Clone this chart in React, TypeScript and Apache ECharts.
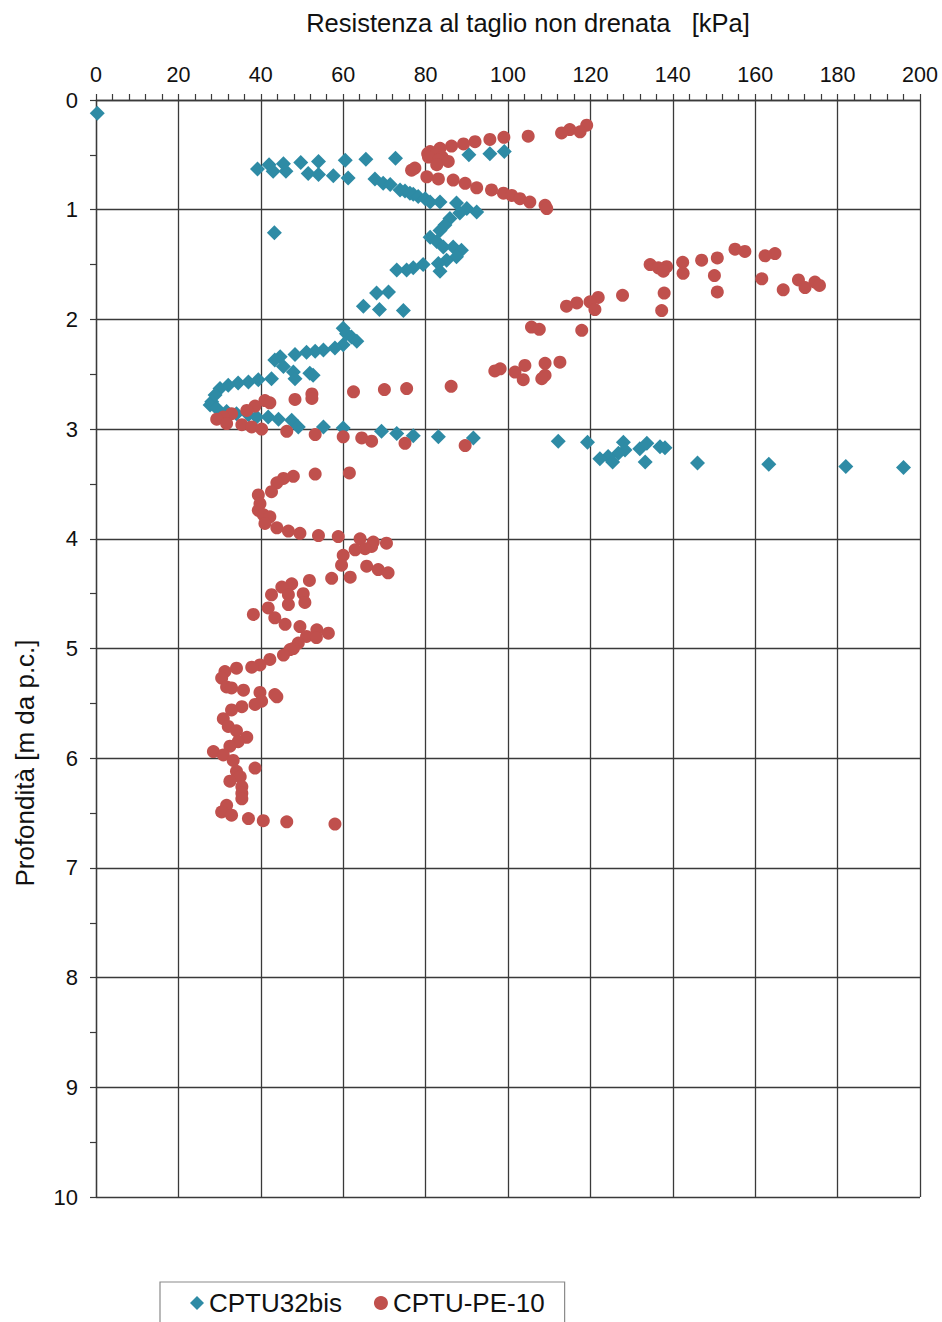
import React, { useEffect, useRef } from "react";
import * as echarts from "echarts";

const xTitle = "Resistenza al taglio non drenata   [kPa]";
const yTitle = "Profondità [m da p.c.]";
const seriesNames = ["CPTU32bis", "CPTU-PE-10"];

// CPTU32bis: undrained shear strength [kPa] and depth [m]
const cptu32Su = [
  0.3, 99.1, 95.6, 90.5, 72.7, 65.5, 60.5, 54.0, 49.7, 45.5, 42.0, 39.2, 43.0, 46.1, 51.5, 54.0, 57.6, 61.2,
  67.7, 69.7, 71.4, 73.8, 75.0, 76.2, 77.0, 78.2, 79.9, 81.1, 83.5, 87.5, 90.0, 92.4, 88.3, 85.9, 84.7, 83.5,
  43.3, 81.1, 82.7, 84.3, 86.7, 88.7, 87.5, 85.1, 83.1, 79.4, 77.0, 75.4, 73.0, 83.5, 71.0, 68.1, 64.9, 68.8,
  74.6, 60.0, 60.8, 62.0, 63.3, 60.0, 58.0, 55.2, 53.2, 51.1, 48.3, 44.7, 43.4, 45.5, 47.9, 51.9, 52.7, 48.3,
  42.6, 39.4, 37.0, 34.5, 32.1, 30.1, 28.9, 28.1, 27.7, 29.3, 31.7, 34.1, 37.0, 39.0, 41.8, 44.3, 47.5, 49.1,
  55.2, 60.0, 69.3, 73.0, 77.0, 83.1, 91.6, 112.2, 119.3, 128.0, 128.4, 126.8, 124.3, 122.3, 125.4, 132.0,
  133.7, 133.3, 136.9, 138.1, 146.0, 163.3, 182.0, 196.0,
];
const cptu32Depth = [
  0.12, 0.47, 0.49, 0.5, 0.53, 0.54, 0.55, 0.56, 0.57, 0.58, 0.59, 0.63, 0.65, 0.65, 0.67, 0.68, 0.69, 0.71,
  0.72, 0.76, 0.77, 0.82, 0.83, 0.85, 0.86, 0.88, 0.9, 0.93, 0.93, 0.94, 0.99, 1.02, 1.03, 1.08, 1.14, 1.19,
  1.21, 1.25, 1.29, 1.34, 1.34, 1.37, 1.43, 1.46, 1.49, 1.5, 1.53, 1.55, 1.55, 1.56, 1.75, 1.76, 1.88, 1.91,
  1.92, 2.08, 2.13, 2.16, 2.2, 2.23, 2.26, 2.28, 2.29, 2.3, 2.32, 2.34, 2.37, 2.43, 2.48, 2.49, 2.51, 2.54,
  2.54, 2.55, 2.57, 2.58, 2.6, 2.63, 2.69, 2.75, 2.78, 2.81, 2.84, 2.86, 2.87, 2.89, 2.89, 2.91, 2.92, 2.98,
  2.98, 2.99, 3.02, 3.04, 3.06, 3.07, 3.08, 3.11, 3.12, 3.12, 3.19, 3.22, 3.25, 3.27, 3.3, 3.18,
  3.13, 3.3, 3.16, 3.17, 3.31, 3.32, 3.34, 3.35,
];

// CPTU-PE-10: undrained shear strength [kPa] and depth [m]
const pe10Su = [
  119.1, 115.0, 117.5, 113.0, 104.9, 99.0, 95.6, 92.0, 89.2, 86.3, 83.5, 81.1, 80.5, 82.5, 84.0, 80.7, 83.1,
  85.5, 82.7, 77.4, 76.6, 80.3, 83.1, 86.7, 89.6, 92.4, 96.0, 98.9, 100.9, 102.9, 105.3, 109.0, 109.4,
  155.1, 157.5, 164.8, 162.4, 150.8, 147.0, 142.4, 134.5, 138.5, 136.5, 137.7, 142.5, 150.1, 161.6, 170.5,
  174.5, 175.6, 172.1, 166.8, 150.8, 137.9, 127.8, 121.9, 119.9, 116.7, 114.2, 121.1, 137.3, 105.7, 107.6,
  117.9, 112.6, 109.0, 104.1, 98.1, 96.8, 101.7, 109.0, 108.2, 103.7, 86.2, 75.4, 70.0, 62.5, 52.4, 52.4,
  48.3, 41.0, 42.2, 38.6, 36.6, 32.9, 30.9, 29.3, 31.7, 35.4, 37.8, 40.2, 46.3, 53.2, 60.0, 64.5, 66.9, 75.0,
  89.6, 61.5, 53.2, 47.9, 45.5, 43.9, 42.6, 39.4, 39.8, 39.4, 40.6, 42.2, 41.0, 43.9, 46.7, 49.5, 54.0, 58.8,
  64.1, 67.3, 70.5, 66.9, 65.3, 62.9, 60.0, 59.6, 65.7, 68.5, 70.9, 61.7, 57.2, 51.8, 47.5, 45.1, 50.3, 46.7,
  42.6, 50.7, 46.7, 41.8, 38.2, 43.4, 45.9, 49.5, 53.6, 56.4, 51.1, 53.5, 49.1, 47.9, 47.1, 45.5, 42.2, 39.8,
  37.8, 34.1, 31.3, 30.5, 31.7, 32.9, 35.8, 39.8, 43.9, 43.4, 40.2, 38.6, 35.4, 32.9, 30.9, 32.1, 34.1, 36.6,
  34.5, 32.5, 28.5, 30.9, 33.3, 38.6, 34.1, 35.0, 32.5, 35.4, 35.4, 35.4, 31.7, 30.5, 32.9, 37.0, 40.6, 46.3,
  58.0,
];
const pe10Depth = [
  0.23, 0.27, 0.29, 0.3, 0.33, 0.34, 0.36, 0.38, 0.4, 0.42, 0.44, 0.47, 0.49, 0.5, 0.52, 0.52, 0.55,
  0.56, 0.59, 0.62, 0.64, 0.7, 0.72, 0.73, 0.76, 0.8, 0.82, 0.85, 0.87, 0.9, 0.93, 0.96, 0.99,
  1.36, 1.38, 1.4, 1.42, 1.44, 1.46, 1.48, 1.5, 1.52, 1.53, 1.56, 1.58, 1.6, 1.63, 1.64,
  1.66, 1.69, 1.71, 1.73, 1.75, 1.76, 1.78, 1.8, 1.84, 1.85, 1.88, 1.91, 1.92, 2.07, 2.09,
  2.1, 2.39, 2.4, 2.42, 2.45, 2.47, 2.48, 2.51, 2.54, 2.55, 2.61, 2.63, 2.64, 2.66, 2.68, 2.72,
  2.73, 2.74, 2.76, 2.79, 2.83, 2.86, 2.89, 2.91, 2.95, 2.96, 2.98, 3.0, 3.02, 3.05, 3.07, 3.08, 3.11, 3.13,
  3.15, 3.4, 3.41, 3.43, 3.45, 3.49, 3.57, 3.6, 3.68, 3.74, 3.78, 3.8, 3.86, 3.9, 3.93, 3.95, 3.97, 3.98,
  4.0, 4.03, 4.04, 4.07, 4.09, 4.1, 4.15, 4.24, 4.25, 4.28, 4.31, 4.35, 4.36, 4.38, 4.41, 4.44, 4.5, 4.51,
  4.51, 4.58, 4.6, 4.63, 4.69, 4.72, 4.78, 4.8, 4.83, 4.86, 4.89, 4.9, 4.95, 5.0, 5.01, 5.06, 5.1, 5.15,
  5.17, 5.18, 5.21, 5.27, 5.35, 5.36, 5.38, 5.4, 5.44, 5.42, 5.48, 5.51, 5.53, 5.56, 5.64, 5.71, 5.75, 5.81,
  5.85, 5.89, 5.94, 5.97, 6.02, 6.09, 6.12, 6.17, 6.21, 6.26, 6.32, 6.37, 6.43, 6.49, 6.52, 6.55, 6.57, 6.58,
  6.6,
];

const xMin = 0, xMax = 200, xStep = 20;
const yMin = 0, yMax = 10, yStep = 1;

const FONT = "'Liberation Sans', Arial, sans-serif";
const LINE = "#3a3a3a";
const BLUE = "#2E8BA5";
const RED = "#C0504D";

export default function App() {
  const ref = useRef<HTMLDivElement>(null);
  useEffect(() => {
    if (!ref.current) return;
    const chart = echarts.init(ref.current, undefined, { renderer: "svg" });
    const blue = cptu32Su.map((v, i) => [v, cptu32Depth[i]]);
    const red = pe10Su.map((v, i) => [v, pe10Depth[i]]);
    chart.setOption({
      animation: false,
      backgroundColor: "#ffffff",
      grid: { left: 96, top: 100, width: 824, height: 1097, containLabel: false },
      graphic: [
        {
          type: "text",
          x: 528,
          y: 23,
          style: { text: xTitle, fontSize: 25.5, fontFamily: FONT, fill: "#111", textAlign: "center", textVerticalAlign: "middle" },
        },
        {
          type: "text",
          x: 25,
          y: 763,
          rotation: Math.PI / 2,
          style: { text: yTitle, fontSize: 26, fontFamily: FONT, fill: "#111", textAlign: "center", textVerticalAlign: "middle" },
        },
      ],
      xAxis: {
        type: "value",
        position: "top",
        min: xMin,
        max: xMax,
        interval: xStep,
        axisLine: { show: true, onZero: false, lineStyle: { color: LINE, width: 1.3 } },
        axisTick: { show: true, inside: false, length: 6, lineStyle: { color: LINE, width: 1.2 } },
        minorTick: { show: true, splitNumber: 5, length: 6, lineStyle: { color: LINE, width: 1.2 } },
        splitLine: { show: true, lineStyle: { color: LINE, width: 1.3 } },
        minorSplitLine: { show: false },
        axisLabel: { fontSize: 21.5, fontFamily: FONT, color: "#111", margin: 14 },
      },
      yAxis: {
        type: "value",
        inverse: true,
        min: yMin,
        max: yMax,
        interval: yStep,
        axisLine: { show: true, onZero: false, lineStyle: { color: LINE, width: 1.3 } },
        axisTick: { show: true, inside: false, length: 6, lineStyle: { color: LINE, width: 1.2 } },
        minorTick: { show: true, splitNumber: 2, length: 6, lineStyle: { color: LINE, width: 1.2 } },
        splitLine: { show: true, lineStyle: { color: LINE, width: 1.3 } },
        axisLabel: { fontSize: 22, fontFamily: FONT, color: "#111", margin: 18 },
      },
      legend: {
        left: 160,
        top: 1282,
        orient: "horizontal",
        padding: [8, 20, 30, 30],
        itemGap: 32,
        itemWidth: 14,
        itemHeight: 14,
        borderColor: "#8a8a8a",
        borderWidth: 1.2,
        textStyle: { fontSize: 26, fontFamily: FONT, color: "#111" },
        data: [
          { name: seriesNames[0], icon: "diamond" },
          { name: seriesNames[1], icon: "circle" },
        ],
      },
      series: [
        {
          name: seriesNames[0],
          type: "scatter",
          symbol: "diamond",
          symbolSize: 15,
          itemStyle: { color: BLUE, opacity: 1 },
          data: blue,
          z: 3,
        },
        {
          name: seriesNames[1],
          type: "scatter",
          symbol: "circle",
          symbolSize: 13,
          itemStyle: { color: RED, opacity: 1 },
          data: red,
          z: 4,
        },
      ],
    });
    return () => chart.dispose();
  }, []);
  return (
    <div
      ref={ref}
      style={{ position: "absolute", left: 0, top: 0, width: 942, height: 1322, background: "#fff" }}
    />
  );
}
